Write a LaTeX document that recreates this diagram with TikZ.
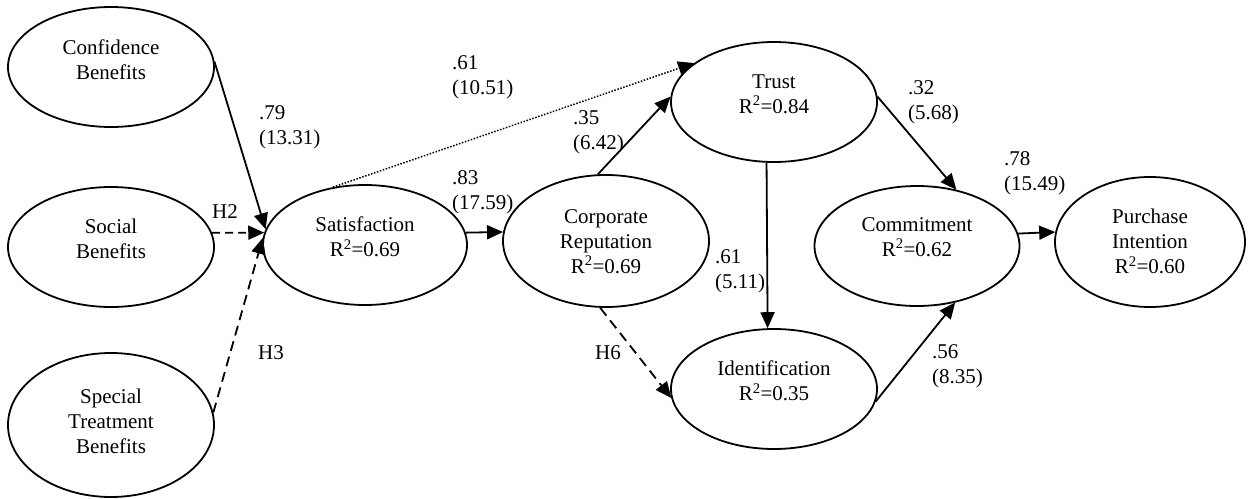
\documentclass[tikz,border=0pt]{standalone}
\usepackage{fontspec}
\setmainfont{Liberation Serif}
\usetikzlibrary{shapes.geometric,arrows.meta}
\begin{document}
\begin{tikzpicture}[x=1pt,y=-1pt,
  font=\fontsize{21}{25}\selectfont,
  latent/.style={draw, ellipse, line width=1.8pt, inner sep=0pt},
  caption/.style={align=center, inner sep=0pt},
  coef/.style={align=left, anchor=west, inner sep=0pt},
  hlabel/.style={inner sep=0pt},
  rel/.style={line width=1.8pt, -{Triangle[length=16pt,width=14pt]}},
  hypo/.style={rel, dash pattern=on 10pt off 6pt},
  dotrel/.style={rel, line width=1.5pt, dash pattern=on 1.5pt off 1.6pt},
]
\useasboundingbox (0,0) rectangle (1253,498);

% latent constructs
\node[latent, minimum width=206pt, minimum height=120pt] (conf)  at (111,67)  {};
\node[latent, minimum width=206pt, minimum height=120pt] (soc)   at (111,247) {};
\node[latent, minimum width=206pt, minimum height=144pt] (spec)  at (111,425) {};
\node[latent, minimum width=204pt, minimum height=120pt] (sat)   at (365,245) {};
\node[latent, minimum width=206pt, minimum height=132pt] (corp)  at (606,241) {};
\node[latent, minimum width=206pt, minimum height=120pt] (trust) at (774,102) {};
\node[latent, minimum width=206pt, minimum height=120pt] (ident) at (774,389) {};
\node[latent, minimum width=205pt, minimum height=120pt] (comm)  at (917,246) {};
\node[latent, minimum width=190pt, minimum height=130pt] (purch) at (1150,242) {};

% construct names
\node[caption] (confT)  at (111,60)    {Confidence\\Benefits};
\node[caption] (socT)   at (111,239)   {Social\\Benefits};
\node[caption] (specT)  at (111,421.5) {Special\\Treatment\\Benefits};
\node[caption] (satT)   at (365,237)   {Satisfaction\\R\textsuperscript{2}=0.69};
\node[caption] (corpT)  at (606,241.5) {Corporate\\Reputation\\R\textsuperscript{2}=0.69};
\node[caption] (trustT) at (774,94)    {Trust\\R\textsuperscript{2}=0.84};
\node[caption] (identT) at (774,381)   {Identification\\R\textsuperscript{2}=0.35};
\node[caption] (commT)  at (917,237)   {Commitment\\R\textsuperscript{2}=0.62};
\node[caption] (purchT) at (1150,241.5){Purchase\\Intention\\R\textsuperscript{2}=0.60};

% structural paths
\draw[rel]    (conf.3)      -- (sat.171);
\draw[hypo, dash pattern=on 8pt off 5pt] (soc.8) -- (sat.173);
\draw[hypo]   (spec.7)      -- (sat.176);
\draw[rel]    (sat.7)       -- (corp.175);
\draw[dotrel] (sat.119)     -- (trust.154);
\draw[rel]    (corp.97)     -- (trust.177);
\draw[hypo]   (corp.265)    -- (ident.185);
\draw[rel]    (trust.263.3) -- (ident.96.7);
\draw[rel]    (trust.3)     -- (comm.55);
\draw[rel]    (ident.353)   -- (comm.304);
\draw[rel]    (comm.7)      -- (purch.174.5);

% path coefficients (t-values)
\node[coef] (c1) at (259,127.5) {.79\\(13.31)};
\node[coef] (c2) at (452,77.5)  {.61\\(10.51)};
\node[coef] (c3) at (573,132.5) {.35\\(6.42)};
\node[coef] (c4) at (452,192.5) {.83\\(17.59)};
\node[coef] (c5) at (715,271)   {.61\\(5.11)};
\node[coef] (c6) at (908,102)   {.32\\(5.68)};
\node[coef] (c7) at (1004,173.5){.78\\(15.49)};
\node[coef] (c8) at (932,366.5) {.56\\(8.35)};

% hypothesis labels
\node[hlabel] (h2) at (225,212) {H2};
\node[hlabel] (h3) at (271,353) {H3};
\node[hlabel] (h6) at (608,353) {H6};
\end{tikzpicture}
\end{document}
